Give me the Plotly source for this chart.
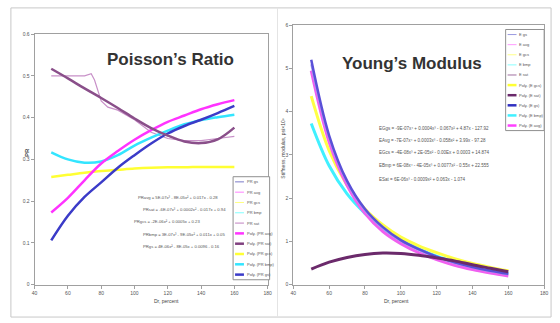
import plotly.graph_objects as go

W, H = 560, 323

# ---------------- data: Poisson's ratio ----------------
x_pr = [50, 60, 70, 80, 90, 100, 110, 120, 130, 140, 150, 160]
pr_sat_fit = [0.517, 0.494, 0.47, 0.447, 0.423, 0.398, 0.375, 0.357, 0.343, 0.339, 0.348, 0.376]
pr_bmp_fit = [0.317, 0.300, 0.292, 0.295, 0.310, 0.333, 0.352, 0.369, 0.384, 0.394, 0.401, 0.407]
pr_avg_fit = [0.173, 0.208, 0.250, 0.290, 0.320, 0.347, 0.370, 0.390, 0.405, 0.420, 0.432, 0.442]
pr_gs_fit = [0.106, 0.165, 0.210, 0.245, 0.280, 0.310, 0.338, 0.362, 0.380, 0.395, 0.411, 0.428]
pr_gcs_fit = [0.258, 0.263, 0.268, 0.272, 0.275, 0.278, 0.280, 0.281, 0.281, 0.282, 0.282, 0.282]
x_pr_sat = [50, 60, 70, 74, 76, 80, 84, 90, 100, 110, 120, 130, 140, 150, 160]
pr_sat = [0.50, 0.50, 0.50, 0.505, 0.49, 0.44, 0.425, 0.418, 0.395, 0.365, 0.350, 0.345, 0.345, 0.350, 0.355]

# ---------------- data: Young's modulus ----------------
x_e = [50, 60, 70, 80, 90, 100, 110, 120, 130, 140, 150, 160]
e_bmp_fit = [3.73, 2.75, 2.10, 1.65, 1.30, 1.03, 0.83, 0.66, 0.53, 0.42, 0.33, 0.26]
e_gcs_fit = [4.36, 3.10, 2.30, 1.75, 1.38, 1.10, 0.90, 0.74, 0.60, 0.49, 0.40, 0.32]
e_avg_fit = [4.95, 3.30, 2.30, 1.65, 1.23, 0.95, 0.74, 0.58, 0.45, 0.35, 0.27, 0.20]
e_gs_fit = [5.20, 3.45, 2.40, 1.75, 1.33, 1.03, 0.82, 0.65, 0.52, 0.41, 0.32, 0.25]
e_gs = [5.10, 3.40, 2.37, 1.72, 1.31, 1.01, 0.80, 0.63, 0.50, 0.40, 0.31, 0.24]
e_sat_fit = [0.36, 0.52, 0.63, 0.70, 0.73, 0.72, 0.68, 0.62, 0.55, 0.46, 0.38, 0.30]

pr_ticks_x = [40, 60, 80, 100, 120, 140, 160, 180]
pr_ticks_y = [0, 0.1, 0.2, 0.3, 0.4, 0.5, 0.6]
e_ticks_y = [0, 1, 2, 3, 4, 5, 6]

pr_legend = [("PR gs", "#7A7AC8", 1), ("PR avg", "#FF80FF", 1), ("PR gcs", "#FFFF80", 1),
             ("PR bmp", "#80FFFF", 1), ("PR sat", "#C080C0", 1),
             ("Poly. (PR avg)", "#FF33FF", 2.5), ("Poly. (PR sat)", "#80407F", 2.5),
             ("Poly. (PR gcs)", "#FFFF33", 2.5), ("Poly. (PR bmp)", "#33E5FF", 2.5),
             ("Poly. (PR gs)", "#3B3BC8", 2.5)]
e_legend = [("E gs", "#9A9AE0", 1), ("E avg", "#FF99FF", 1), ("E gcs", "#FFFF88", 1),
            ("E bmp", "#88FFFF", 1), ("E sat", "#A070A0", 1),
            ("Poly. (E gcs)", "#FFFF33", 2.5), ("Poly. (E sat)", "#6B2A6B", 2.5),
            ("Poly. (E gs)", "#3030C0", 2.5), ("Poly. (E bmp)", "#40F0FF", 2.5),
            ("Poly. (E avg)", "#FF40FF", 2.5)]

pr_eqs = ["PRavg = 5E-07x³ - 8E-05x² + 0.017x - 0.28",
          "PRsat = -6E-07x³ + 0.0002x² - 0.017x + 0.94",
          "PRgcs = -2E-06x² + 0.0005x + 0.23",
          "PRbmp = 3E-07x³ - 9E-05x² + 0.011x + 0.05",
          "PRgs = 4E-06x² - 8E-05x + 0.0096 - 0.16"]
e_eqs = ["EGgs = -9E-07x⁴ + 0.0004x³ - 0.067x² + 4.87x - 127.92",
         "EAvg = -7E-07x⁴ + 0.0003x³ - 0.058x² + 3.99x - 97.28",
         "EGcs = -4E-08x³ + 2E-05x² - 0.00Ex + 0.0003 + 14.874",
         "EBmp = 6E-08x⁴ - 4E-05x³ + 0.0077x² - 0.55x + 22.555",
         "ESat = 6E-06x³ - 0.0009x² + 0.063x - 1.074"]

def px(v):
    return v / W

def py(v):
    return 1 - v / H

fig = go.Figure()

def line(x, y, color, width, axis, shape="spline"):
    xa, ya = axis
    fig.add_trace(go.Scatter(x=x, y=y, mode="lines", xaxis=xa, yaxis=ya,
                             line=dict(color=color, width=width, shape=shape, smoothing=1.0),
                             showlegend=False, hoverinfo="skip"))

L = ("x", "y")
R = ("x2", "y2")
line(x_pr_sat, pr_sat, "#C890C8", 1.2, L, "linear")
line(x_pr, pr_gcs_fit, "#FFFF33", 2.5, L)
line(x_pr, pr_bmp_fit, "#33E5FF", 2.5, L)
line(x_pr, pr_avg_fit, "#FF33FF", 2.5, L)
line(x_pr, pr_gs_fit, "#3B3BC8", 2.5, L)
line(x_pr, pr_sat_fit, "#8A4F8A", 2.5, L)

line(x_e, e_bmp_fit, "#40F0FF", 3, R)
line(x_e, e_gcs_fit, "#FFFF44", 3, R)
line(x_e, e_avg_fit, "#F060F0", 3, R)
line(x_e, e_gs, "#A8A0F0", 2, R)
line(x_e, e_gs_fit, "#5A50D8", 2.5, R)
line(x_e, e_sat_fit, "#6B2A6B", 3, R)

axis_common = dict(showgrid=False, zeroline=False, showline=True, linecolor="#A0A0A0",
                   linewidth=1, mirror=True, ticks="outside", ticklen=3, tickcolor="#A0A0A0",
                   tickfont=dict(size=5, color="#555555", family="Arial"))

fig.update_layout(
    width=W, height=H, autosize=False,
    margin=dict(l=0, r=0, t=0, b=0, pad=0),
    paper_bgcolor="white", plot_bgcolor="white",
    xaxis=dict(domain=[px(32), px(268)], range=[40, 180], tickvals=pr_ticks_x,
               anchor="y", **axis_common),
    yaxis=dict(domain=[1 - 287 / H, 1 - 31.7 / H], range=[0, 0.6], tickvals=pr_ticks_y,
               anchor="x", **axis_common),
    xaxis2=dict(domain=[px(294), px(548)], range=[40, 180], tickvals=pr_ticks_x,
                anchor="y2", **axis_common),
    yaxis2=dict(domain=[1 - 287 / H, 1 - 22.7 / H], range=[0, 6], tickvals=e_ticks_y,
                anchor="x2", **axis_common),
)

shapes = []
ann = []
shapes.append(dict(type="rect", xref="paper", yref="paper", x0=px(8), x1=px(555),
                   y0=py(320), y1=py(5), line=dict(color="#C8C8C8", width=1)))
shapes.append(dict(type="line", xref="paper", yref="paper", x0=px(278), x1=px(278),
                   y0=py(320), y1=py(5), line=dict(color="#E4E4E4", width=1)))

title_font = dict(family="Liberation Sans, Arial", size=17, color="#333333")
ann.append(dict(text="<b>Poisson’s Ratio</b>", x=px(170), y=py(58), xref="paper", yref="paper",
                showarrow=False, font=title_font, xanchor="center", yanchor="middle"))
ann.append(dict(text="<b>Young’s Modulus</b>", x=px(414), y=py(62), xref="paper", yref="paper",
                showarrow=False, font=title_font, xanchor="center", yanchor="middle"))

small = dict(family="Arial", size=4.2, color="#555555")
for i, t in enumerate(pr_eqs):
    x0 = [135, 140, 131, 140, 140][i]
    ann.append(dict(text=t, x=px(x0), y=py(198 + i * 12.5), xref="paper", yref="paper",
                    showarrow=False, font=small, xanchor="left", yanchor="middle"))
small_r = dict(family="Arial", size=4.5, color="#555555")
for i, t in enumerate(e_eqs):
    yy = [128, 140, 152, 166, 180][i]
    ann.append(dict(text=t, x=px(379), y=py(yy), xref="paper", yref="paper",
                    showarrow=False, font=small_r, xanchor="left", yanchor="middle"))

lab = dict(family="Arial", size=5, color="#444444")
ann.append(dict(text="Dr, percent", x=px(151), y=py(309), xref="paper", yref="paper",
                showarrow=False, font=lab))
ann.append(dict(text="Dr, percent", x=px(413), y=py(309), xref="paper", yref="paper",
                showarrow=False, font=lab))
ann.append(dict(text="<b>PR</b>", x=px(19), y=py(152), xref="paper", yref="paper",
                showarrow=False, font=dict(family="Arial", size=6, color="#444444"), textangle=-90))
ann.append(dict(text="Stiffness, modulus, psi×10⁶", x=px(284), y=py(148), xref="paper",
                yref="paper", showarrow=False, font=lab, textangle=-90))

def legend(entries, x0, x1, y0, y1):
    shapes.append(dict(type="rect", xref="paper", yref="paper", x0=px(x0), x1=px(x1),
                       y0=py(y1), y1=py(y0), line=dict(color="#909090", width=1),
                       fillcolor="white"))
    step = (y1 - y0) / len(entries)
    for i, (name, col, wd) in enumerate(entries):
        yc = y0 + step * (i + 0.5)
        shapes.append(dict(type="line", xref="paper", yref="paper", x0=px(x0 + 2),
                           x1=px(x0 + 11), y0=py(yc), y1=py(yc),
                           line=dict(color=col, width=wd)))
        ann.append(dict(text=name, x=px(x0 + 12), y=py(yc), xref="paper", yref="paper",
                        showarrow=False, xanchor="left", yanchor="middle",
                        font=dict(family="Arial", size=4, color="#555555")))

legend(pr_legend, 233, 270, 177, 282)
legend(e_legend, 509, 548, 27, 130)

fig.update_layout(shapes=shapes, annotations=ann)
fig.write_html("out.html", config={"displayModeBar": False},
               post_script="document.body.style.margin='0';")
